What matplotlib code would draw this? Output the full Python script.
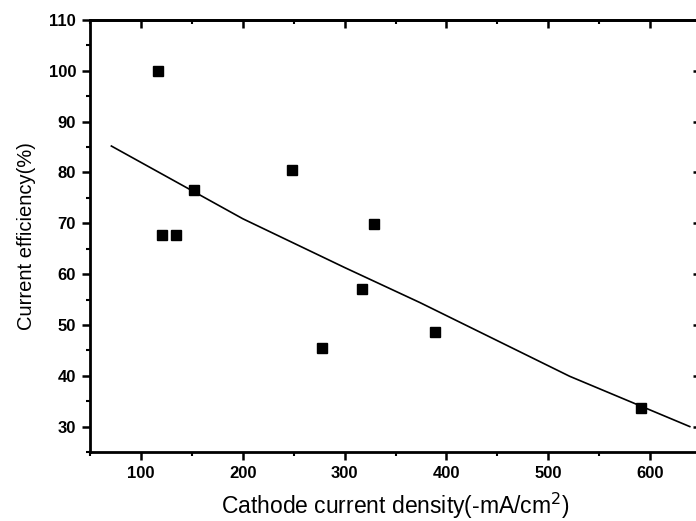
import matplotlib
matplotlib.use("Agg")
import matplotlib.pyplot as plt
from matplotlib.ticker import MultipleLocator

# Data
current_density = [117, 121, 134, 152, 248, 278, 317, 329, 389, 591]
efficiency = [100.0, 67.7, 67.7, 76.5, 80.4, 45.5, 57.1, 69.8, 48.7, 33.7]

# Fitted trend line
fit_x = [71, 200, 300, 374, 521, 639]
fit_y = [85.2, 70.9, 61.3, 54.4, 39.9, 30.0]

plt.rcParams['font.family'] = ['Liberation Sans', 'DejaVu Sans']

fig = plt.figure(figsize=(6.96, 5.21), dpi=100)
ax = fig.add_axes([90/696, (521-452)/521, 611/696, 432/521])

ax.plot(fit_x, fit_y, color='black', lw=1.2, zorder=2)
ax.plot(current_density, efficiency, linestyle='none', marker='s',
        markersize=6.5, color='black', zorder=3)

ax.set_xlim(50, 650)
ax.set_ylim(25, 110)
ax.xaxis.set_major_locator(MultipleLocator(100))
ax.xaxis.set_minor_locator(MultipleLocator(50))
ax.yaxis.set_major_locator(MultipleLocator(10))
ax.yaxis.set_minor_locator(MultipleLocator(5))

for s in ax.spines.values():
    s.set_linewidth(2)

ax.tick_params(axis='both', which='major', direction='out', length=6, width=1.8,
               labelsize=12, pad=4)
ax.tick_params(axis='both', which='minor', direction='out', length=3, width=1.5)

for lab in ax.get_xticklabels() + ax.get_yticklabels():
    lab.set_fontweight('bold')

# inward ticks on top and right
secx = ax.secondary_xaxis('top')
secx.xaxis.set_major_locator(MultipleLocator(100))
secx.xaxis.set_minor_locator(MultipleLocator(50))
secx.tick_params(which='major', direction='in', length=6, width=1.8, labeltop=False)
secx.tick_params(which='minor', direction='in', length=3, width=1.5)
secx.spines['top'].set_linewidth(2)
secy = ax.secondary_yaxis('right')
secy.yaxis.set_major_locator(MultipleLocator(10))
secy.yaxis.set_minor_locator(MultipleLocator(5))
secy.tick_params(which='major', direction='in', length=6, width=1.8, labelright=False)
secy.tick_params(which='minor', direction='in', length=3, width=1.5)
secy.spines['right'].set_linewidth(2)
ax.tick_params(which='both', top=False, right=False)

ax.set_xlabel('Cathode current density(-mA/cm$^2$)', fontsize=16.5, labelpad=7)
ax.set_ylabel('Current efficiency(%)', fontsize=14.5, labelpad=9)

fig.savefig('out.png', dpi=100)
